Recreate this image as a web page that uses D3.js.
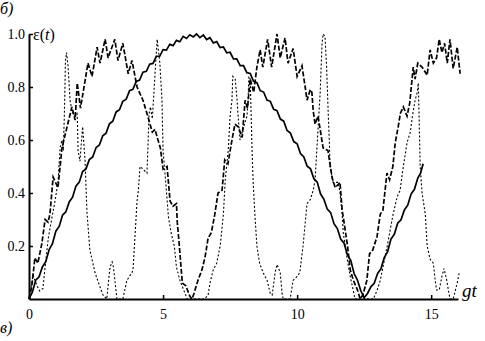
<!DOCTYPE html>
<html>
<head>
<meta charset="utf-8">
<script src="https://cdn.jsdelivr.net/npm/d3@7"></script>
<style>
  body { margin: 0; background: #fff; }
  svg { display: block; }
  svg text { font-family: "Liberation Serif", "Times New Roman", serif; }
</style>
</head>
<body>
<svg id="chart" width="485" height="341"></svg>
<script>
// values: [gt, eps]
const solid = [
  [0,0],[0.125,0.026],[0.25,0.071],[0.375,0.084],[0.5,0.121],[0.625,0.141],[0.75,0.186],[0.875,0.209],
  [1.0,0.256],[1.125,0.274],[1.25,0.316],[1.375,0.329],[1.5,0.366],[1.625,0.384],[1.75,0.426],[1.875,0.441],
  [2.0,0.481],[2.125,0.491],[2.25,0.526],[2.375,0.536],[2.5,0.571],[2.625,0.581],[2.75,0.616],[2.875,0.626],
  [3.0,0.661],[3.125,0.671],[3.25,0.706],[3.375,0.714],[3.5,0.746],[3.625,0.754],[3.75,0.786],[3.875,0.791],
  [4.0,0.821],[4.125,0.826],[4.25,0.856],[4.375,0.859],[4.5,0.886],[4.625,0.889],[4.75,0.916],[4.875,0.916],
  [5.0,0.941],[5.125,0.939],[5.25,0.961],[5.375,0.956],[5.5,0.976],[5.625,0.971],[5.75,0.991],[5.875,0.983],
  [6.0,0.997],[6.125,0.989],[6.25,1.0],[6.375,0.986],[6.5,0.996],[6.625,0.979],[6.75,0.986],[6.875,0.966],
  [7.0,0.971],[7.125,0.949],[7.25,0.951],[7.375,0.929],[7.5,0.931],[7.625,0.906],[7.75,0.906],[7.875,0.881],
  [8.0,0.881],[8.125,0.854],[8.25,0.851],[8.375,0.821],[8.5,0.816],[8.625,0.786],[8.75,0.781],[8.875,0.751],
  [9.0,0.746],[9.125,0.716],[9.25,0.711],[9.375,0.679],[9.5,0.671],[9.625,0.636],[9.75,0.626],[9.875,0.594],
  [10.0,0.586],[10.125,0.549],[10.25,0.536],[10.375,0.501],[10.5,0.491],[10.625,0.454],[10.75,0.441],[10.875,0.396],
  [11.0,0.376],[11.125,0.339],[11.25,0.326],[11.375,0.284],[11.5,0.266],[11.625,0.226],[11.75,0.211],[11.875,0.166],
  [12.0,0.146],[12.125,0.096],[12.25,0.071],[12.375,0.031],[12.5,0.005],[12.625,0.021],[12.75,0.046],[12.875,0.059],
  [13.0,0.096],[13.125,0.114],[13.25,0.156],[13.375,0.179],[13.5,0.226],[13.625,0.244],[13.75,0.286],[13.875,0.299],
  [14.0,0.336],[14.125,0.354],[14.25,0.396],[14.375,0.414],[14.5,0.456],[14.6,0.474],[14.7,0.51]
];

const dashed = [
  [0,0],[0.1,0.045],[0.22,0.155],[0.33,0.135],[0.48,0.21],[0.6,0.30],[0.71,0.29],[0.78,0.32],
  [0.9,0.46],[1.08,0.42],[1.23,0.57],[1.42,0.65],[1.6,0.725],[1.72,0.675],[1.8,0.815],[1.92,0.72],
  [2.2,0.89],[2.35,0.84],[2.54,0.95],[2.65,0.89],[2.84,0.98],[2.95,0.91],[3.2,0.98],[3.32,0.90],
  [3.5,0.965],[3.7,0.85],[3.84,0.90],[4.03,0.80],[4.25,0.75],[4.4,0.70],[4.6,0.63],[4.7,0.64],
  [4.81,0.60],[4.9,0.57],[5.0,0.49],[5.15,0.50],[5.26,0.37],[5.37,0.35],[5.5,0.36],[5.53,0.29],
  [5.6,0.21],[5.67,0.12],[5.72,0.06],[5.85,0.05],[6.0,0.01],[6.08,0.0],[6.15,0.02],[6.3,0.07],
  [6.45,0.11],[6.57,0.16],[6.68,0.23],[6.8,0.25],[6.93,0.32],[7.05,0.40],[7.2,0.41],[7.3,0.525],
  [7.42,0.51],[7.57,0.60],[7.68,0.66],[7.8,0.65],[7.95,0.61],[8.06,0.75],[8.15,0.72],[8.25,0.83],
  [8.38,0.78],[8.5,0.875],[8.62,0.94],[8.72,0.875],[8.9,0.98],[9.05,0.875],[9.25,1.0],[9.37,0.91],
  [9.55,0.985],[9.66,0.89],[9.85,0.945],[10.0,0.84],[10.18,0.88],[10.3,0.80],[10.37,0.75],[10.49,0.79],
  [10.55,0.78],[10.6,0.71],[10.67,0.66],[10.78,0.69],[10.97,0.57],[11.15,0.56],[11.3,0.46],[11.42,0.42],
  [11.6,0.44],[11.68,0.335],[11.75,0.29],[11.88,0.20],[11.98,0.11],[12.1,0.07],[12.25,0.034],[12.35,0.0],
  [12.45,0.015],[12.6,0.07],[12.7,0.17],[12.82,0.185],[12.98,0.235],[13.1,0.32],[13.2,0.335],[13.35,0.475],
  [13.45,0.45],[13.57,0.50],[13.66,0.59],[13.77,0.65],[13.85,0.70],[13.96,0.725],[14.1,0.69],[14.2,0.74],
  [14.33,0.875],[14.4,0.83],[14.5,0.89],[14.66,0.875],[14.85,0.845],[14.96,0.94],[15.08,0.89],[15.2,0.91],
  [15.3,0.98],[15.4,0.93],[15.5,0.965],[15.6,0.89],[15.7,0.98],[15.82,0.87],[15.97,0.95],[16.08,0.85]
];

const dotted = [
  [0,0],[0.15,0.09],[0.3,0.05],[0.4,0.03],[0.52,0.04],[0.6,0.12],[0.72,0.23],[0.86,0.31],
  [0.97,0.37],[1.08,0.44],[1.16,0.57],[1.23,0.60],[1.28,0.56],[1.32,0.70],[1.36,0.90],[1.4,0.93],
  [1.46,0.875],[1.53,0.75],[1.6,0.71],[1.7,0.69],[1.79,0.70],[1.81,0.66],[1.83,0.56],[1.9,0.52],
  [2.0,0.65],[2.09,0.525],[2.16,0.33],[2.27,0.185],[2.46,0.10],[2.65,0.045],[2.76,0.015],[2.9,0.0],
  [3.02,0.12],[3.1,0.14],[3.15,0.12],[3.28,0.0],[3.5,0.0],[3.65,0.07],[3.84,0.10],[3.88,0.11],
  [4.03,0.37],[4.08,0.41],[4.14,0.50],[4.25,0.49],[4.4,0.475],[4.48,0.70],[4.53,0.725],[4.6,0.68],
  [4.7,0.85],[4.78,0.98],[4.88,0.89],[4.96,0.75],[5.0,0.56],[5.1,0.44],[5.2,0.31],[5.3,0.25],
  [5.42,0.20],[5.5,0.12],[5.63,0.07],[5.9,0.0],[6.3,0.0],[6.55,0.0],[6.68,0.015],[6.75,0.06],
  [6.87,0.11],[7.0,0.135],[7.13,0.20],[7.25,0.32],[7.32,0.45],[7.43,0.56],[7.5,0.69],[7.57,0.75],
  [7.6,0.84],[7.69,0.83],[7.76,0.75],[7.8,0.69],[7.87,0.60],[7.98,0.64],[8.13,0.69],[8.17,0.75],
  [8.2,0.84],[8.25,0.83],[8.32,0.56],[8.36,0.44],[8.43,0.31],[8.5,0.20],[8.6,0.135],[8.73,0.10],
  [8.88,0.07],[9.0,0.02],[9.07,0.015],[9.18,0.10],[9.25,0.13],[9.37,0.10],[9.44,0.02],[9.48,0.0],
  [9.74,0.0],[9.85,0.07],[10.0,0.085],[10.1,0.10],[10.22,0.20],[10.37,0.36],[10.49,0.375],[10.6,0.41],
  [10.67,0.45],[10.86,0.78],[10.93,0.966],[10.97,1.0],[11.04,0.99],[11.1,0.875],[11.16,0.70],[11.2,0.60],
  [11.23,0.50],[11.34,0.44],[11.53,0.44],[11.6,0.40],[11.68,0.32],[11.72,0.25],[11.87,0.15],[11.98,0.085],
  [12.09,0.034],[12.16,0.0],[12.84,0.0],[12.99,0.034],[13.1,0.07],[13.2,0.12],[13.36,0.20],[13.47,0.26],
  [13.58,0.32],[13.73,0.385],[13.84,0.41],[13.96,0.50],[14.1,0.59],[14.22,0.63],[14.3,0.69],[14.4,0.75],
  [14.48,0.78],[14.52,0.815],[14.59,0.50],[14.66,0.40],[14.78,0.32],[14.85,0.20],[14.96,0.15],[15.08,0.135],
  [15.15,0.07],[15.2,0.034],[15.3,0.034],[15.4,0.085],[15.48,0.115],[15.58,0.07],[15.7,0.0],[15.82,0.0],
  [15.97,0.06],[16.05,0.10]
];

const xMajor = [0, 5, 10, 15];
const xMinor = d3.range(0, 17, 1);
const yMajor = [0.2, 0.4, 0.6, 0.8, 1.0];
const yMinor = d3.range(0, 1.001, 0.05);

const serif = '"Liberation Serif", "Times New Roman", serif';

const svg = d3.select('#chart');
const x = d3.scaleLinear().domain([0, 16]).range([29, 458]);
const y = d3.scaleLinear().domain([0, 1]).range([299, 34]);

const line = d3.line().x(d => x(d[0])).y(d => y(d[1]));

// curves
svg.append('path').datum(dotted)
  .attr('d', line).attr('fill', 'none').attr('stroke', '#000')
  .attr('stroke-width', 1.1).attr('stroke-dasharray', '2,2');

svg.append('path').datum(dashed)
  .attr('d', line).attr('fill', 'none').attr('stroke', '#000')
  .attr('stroke-width', 1.7).attr('stroke-dasharray', '5,2');

svg.append('path').datum(solid)
  .attr('d', line).attr('fill', 'none').attr('stroke', '#000')
  .attr('stroke-width', 1.7);

// x axis, ticks pointing up into the plot
const gx = svg.append('g').attr('transform', `translate(0,${y(0)})`);
gx.call(d3.axisBottom(x).tickValues(xMinor).tickSize(-2).tickSizeOuter(0).tickFormat(''));
gx.call(d3.axisBottom(x).tickValues(xMajor).tickSize(-4).tickSizeOuter(0).tickPadding(10).tickFormat(d3.format('d')));
gx.attr('font-family', serif).attr('font-size', 14);
gx.selectAll('.domain').attr('stroke-width', 2);
gx.selectAll('.tick line').attr('stroke-width', 1.5);

// y axis, ticks pointing right
const gy = svg.append('g').attr('transform', `translate(${x(0)},0)`);
gy.call(d3.axisLeft(y).tickValues(yMinor).tickSize(-2).tickSizeOuter(0).tickFormat(''));
gy.call(d3.axisLeft(y).tickValues(yMajor).tickSize(-4).tickSizeOuter(0).tickPadding(4).tickFormat(d3.format('.1f')));
gy.attr('font-family', serif).attr('font-size', 14);
gy.selectAll('.domain').attr('stroke-width', 2);
gy.selectAll('.tick line').attr('stroke-width', 1.5);

// labels
const eps = svg.append('text').attr('x', 33).attr('y', 40).attr('font-size', 16);
eps.append('tspan').text('ε(');
eps.append('tspan').attr('font-style', 'italic').text('t');
eps.append('tspan').text(')');

svg.append('text').attr('x', 462).attr('y', 297)
  .attr('font-size', 19).attr('font-style', 'italic').text('gt');
svg.append('text').attr('x', 0).attr('y', 14)
  .attr('font-size', 16).attr('font-style', 'italic').text('б)');
svg.append('text').attr('x', 0).attr('y', 333)
  .attr('font-size', 16).attr('font-style', 'italic').text('в)');
</script>
</body>
</html>
